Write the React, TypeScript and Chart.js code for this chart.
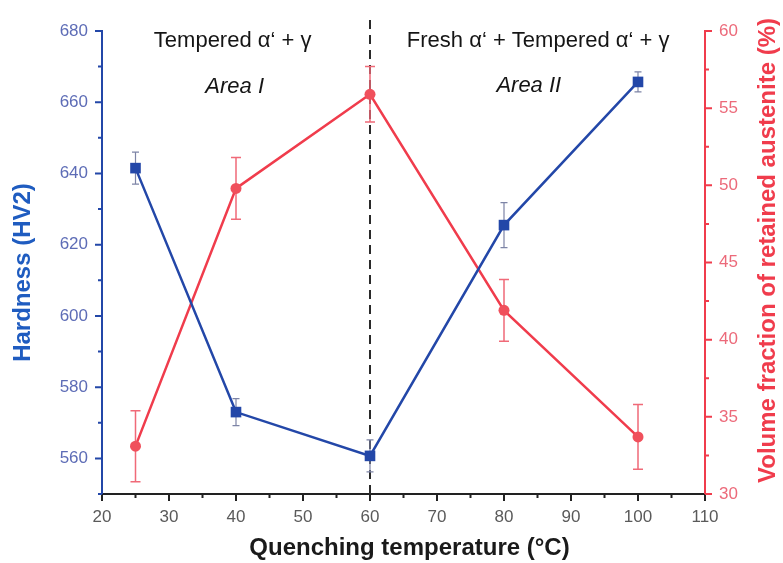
import { useEffect, useRef } from 'react';
import { Chart, registerables } from 'chart.js';

Chart.register(...registerables);

const temperatures = [25, 40, 60, 80, 100];
const hardness = [641.5, 573.0, 560.7, 625.5, 665.7];
const hardnessError = [4.5, 3.8, 4.5, 6.3, 2.8];
const austenite = [33.1, 49.8, 55.9, 41.9, 33.7];
const austeniteError = [2.3, 2.0, 1.8, 2.0, 2.1];

const xTickValues = [20, 30, 40, 50, 60, 70, 80, 90, 100, 110];
const xMinorTickValues = [25, 35, 45, 55, 65, 75, 85, 95, 105];
const hardnessTicks = [560, 580, 600, 620, 640, 660, 680];
const hardnessMinorTicks = [550, 570, 590, 610, 630, 650, 670];
const austeniteTicks = [30, 35, 40, 45, 50, 55, 60];
const austeniteMinorTicks = [32.5, 37.5, 42.5, 47.5, 52.5, 57.5];

const boundaryTemperature = 60;

const annotationTexts = ['Tempered α‘ + γ', 'Area I', 'Fresh α‘ + Tempered α‘ + γ', 'Area II'];
const annotationX = [39.5, 39.8, 85.1, 83.7];
const annotationY = [677.2, 664.4, 677.2, 664.6];
const annotationItalic = [false, true, false, true];

const xTitle = 'Quenching temperature (°C)';
const yTitle = 'Hardness (HV2)';
const y1Title = 'Volume fraction of retained austenite (%)';

const FONT = "'Liberation Sans', Arial, Helvetica, sans-serif";
const BLUE = '#2347a8';
const RED = '#f03c4c';

function drawErrorBars(ctx: any, xs: any, ys: any, color: string, width: number, cap: number, vals: number[], errs: number[]) {
  ctx.save();
  ctx.strokeStyle = color;
  ctx.lineWidth = width;
  for (let i = 0; i < temperatures.length; i++) {
    const px = xs.getPixelForValue(temperatures[i]);
    const top = ys.getPixelForValue(vals[i] + errs[i]);
    const bot = ys.getPixelForValue(vals[i] - errs[i]);
    ctx.beginPath();
    ctx.moveTo(px, top);
    ctx.lineTo(px, bot);
    ctx.moveTo(px - cap, top);
    ctx.lineTo(px + cap, top);
    ctx.moveTo(px - cap, bot);
    ctx.lineTo(px + cap, bot);
    ctx.stroke();
  }
  ctx.restore();
}

function drawAxisTicks(ctx: any, scale: any, values: number[], len: number, color: string, side: string) {
  ctx.save();
  ctx.strokeStyle = color;
  ctx.lineWidth = 2;
  ctx.beginPath();
  for (const v of values) {
    const p = scale.getPixelForValue(v);
    if (side === 'bottom') {
      ctx.moveTo(p, scale.top);
      ctx.lineTo(p, scale.top + len);
    } else if (side === 'left') {
      ctx.moveTo(scale.right, p);
      ctx.lineTo(scale.right - len, p);
    } else {
      ctx.moveTo(scale.left, p);
      ctx.lineTo(scale.left + len, p);
    }
  }
  ctx.stroke();
  ctx.restore();
}

function drawRotated(ctx: any, text: string, x: number, y: number, angle: number, color: string) {
  ctx.save();
  ctx.translate(x, y);
  ctx.rotate(angle);
  ctx.font = `bold 24px ${FONT}`;
  ctx.fillStyle = color;
  ctx.textAlign = 'center';
  ctx.textBaseline = 'middle';
  ctx.fillText(text, 0, 0);
  ctx.restore();
}

const decorPlugin = {
  id: 'decor',
  beforeDatasetsDraw(chart: any) {
    const { ctx, scales, chartArea } = chart;
    const px = scales.x.getPixelForValue(boundaryTemperature);
    ctx.save();
    ctx.strokeStyle = '#2a2a2a';
    ctx.lineWidth = 2;
    ctx.setLineDash([9, 6]);
    ctx.beginPath();
    ctx.moveTo(px, chartArea.top - 11);
    ctx.lineTo(px, chartArea.bottom);
    ctx.stroke();
    ctx.restore();
    drawErrorBars(ctx, scales.x, scales.y, '#7d84a6', 1.2, 3.5, hardness, hardnessError);
    drawErrorBars(ctx, scales.x, scales.y1, '#f06a78', 1.5, 5, austenite, austeniteError);
  },
  afterDraw(chart: any) {
    const { ctx, scales, chartArea } = chart;
    const { x, y, y1 } = scales;
    drawAxisTicks(ctx, x, xTickValues, 7, '#222', 'bottom');
    drawAxisTicks(ctx, x, xMinorTickValues, 4, '#222', 'bottom');
    drawAxisTicks(ctx, y, hardnessTicks, 7, BLUE, 'left');
    drawAxisTicks(ctx, y, hardnessMinorTicks, 4, BLUE, 'left');
    drawAxisTicks(ctx, y1, austeniteTicks, 7, RED, 'right');
    drawAxisTicks(ctx, y1, austeniteMinorTicks, 4, RED, 'right');

    // annotations
    ctx.save();
    ctx.fillStyle = '#151515';
    ctx.textAlign = 'center';
    ctx.textBaseline = 'middle';
    for (let i = 0; i < annotationTexts.length; i++) {
      ctx.font = `${annotationItalic[i] ? 'italic ' : ''}22px ${FONT}`;
      ctx.fillText(annotationTexts[i], x.getPixelForValue(annotationX[i]), y.getPixelForValue(annotationY[i]));
    }
    ctx.restore();

    // axis titles
    const midX = (chartArea.left + chartArea.right) / 2;
    drawRotated(ctx, xTitle, midX + 6, chartArea.bottom + 54, 0, '#1a1a1a');
    drawRotated(ctx, yTitle, 23, (chartArea.top + chartArea.bottom) / 2 + 10, -Math.PI / 2, '#1f5cc0');
    drawRotated(ctx, y1Title, chart.width - 15, (chartArea.top + chartArea.bottom) / 2 - 12, -Math.PI / 2, RED);
  },
};

export default function App() {
  const canvasRef = useRef<HTMLCanvasElement | null>(null);

  useEffect(() => {
    document.body.style.margin = '0';
    const canvas = canvasRef.current;
    if (!canvas) return;
    const chart = new Chart(canvas, {
      type: 'line',
      data: {
        datasets: [
          {
            label: 'Hardness',
            data: temperatures.map((t, i) => ({ x: t, y: hardness[i] })),
            yAxisID: 'y',
            borderColor: BLUE,
            backgroundColor: BLUE,
            borderWidth: 2.5,
            pointStyle: 'rect',
            pointRadius: 7.5,
            pointBorderWidth: 0,
            tension: 0,
          },
          {
            label: 'Retained austenite',
            data: temperatures.map((t, i) => ({ x: t, y: austenite[i] })),
            yAxisID: 'y1',
            borderColor: RED,
            backgroundColor: '#f0505c',
            borderWidth: 2.5,
            pointStyle: 'circle',
            pointRadius: 5.5,
            pointBorderWidth: 0,
            tension: 0,
          },
        ],
      },
      options: {
        responsive: false,
        animation: false,
        devicePixelRatio: 1,
        layout: { padding: { top: 31, left: 0, right: 0, bottom: 0 } },
        plugins: {
          legend: { display: false },
          title: { display: false },
          tooltip: { enabled: false },
        },
        scales: {
          x: {
            type: 'linear',
            position: 'bottom',
            min: 20,
            max: 110,
            afterBuildTicks: (s: any) => {
              s.ticks = xTickValues.map((v) => ({ value: v }));
            },
            afterFit: (s: any) => {
              s.height = 69;
            },
            grid: { display: false, drawTicks: false },
            border: { display: true, color: '#222', width: 2 },
            ticks: {
              padding: 13,
              color: '#5a5a5a',
              font: { family: FONT, size: 17 },
              maxRotation: 0,
              autoSkip: false,
            },
          },
          y: {
            type: 'linear',
            position: 'left',
            min: 550,
            max: 680,
            afterBuildTicks: (s: any) => {
              s.ticks = hardnessTicks.map((v) => ({ value: v }));
            },
            afterFit: (s: any) => {
              s.width = 102;
            },
            grid: { display: false, drawTicks: false },
            border: { display: true, color: BLUE, width: 2 },
            ticks: {
              padding: 14,
              color: '#5d6cb6',
              font: { family: FONT, size: 17 },
              autoSkip: false,
            },
          },
          y1: {
            type: 'linear',
            position: 'right',
            min: 30,
            max: 60,
            afterBuildTicks: (s: any) => {
              s.ticks = austeniteTicks.map((v) => ({ value: v }));
            },
            afterFit: (s: any) => {
              s.width = 78;
            },
            grid: { display: false, drawTicks: false },
            border: { display: true, color: RED, width: 2 },
            ticks: {
              padding: 14,
              color: '#ec6a7a',
              font: { family: FONT, size: 17 },
              autoSkip: false,
            },
          },
        },
      },
      plugins: [decorPlugin],
    } as any);
    return () => chart.destroy();
  }, []);

  return (
    <div style={{ position: 'fixed', left: 0, top: 0, width: 783, height: 563, background: '#fff' }}>
      <canvas ref={canvasRef} width={783} height={563} />
    </div>
  );
}
